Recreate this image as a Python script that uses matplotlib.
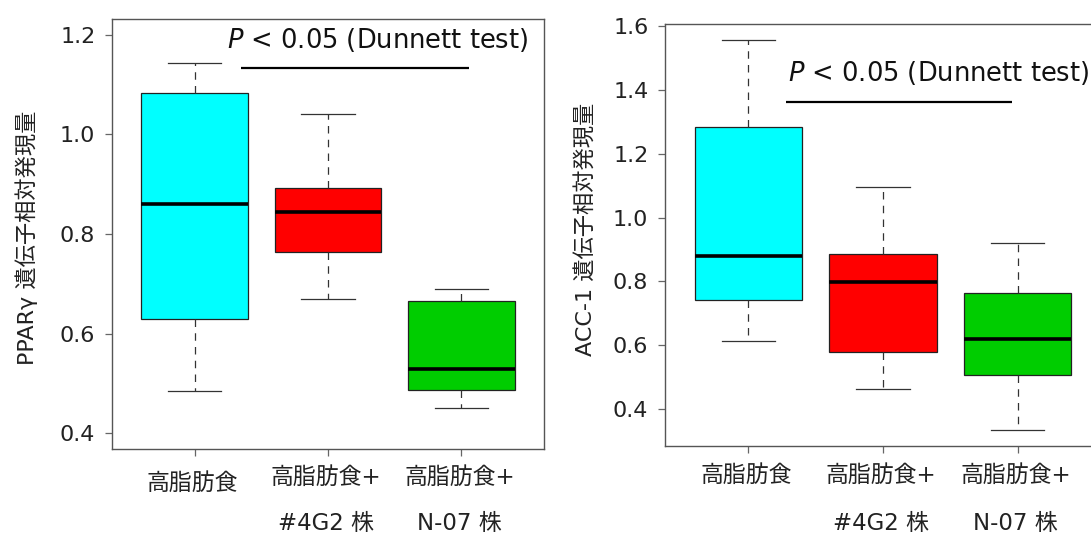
import matplotlib
matplotlib.use("Agg")
import matplotlib.pyplot as plt

plt.rcParams['font.family'] = ['DejaVu Sans', 'Noto Sans CJK JP']
plt.rcParams['mathtext.fontset'] = 'dejavusans'

# Groups and colours
groups = ["高脂肪食", "高脂肪食+", "高脂肪食+"]
group_sub = ["", "#4G2 株", "N-07 株"]
box_colors = ["#00FFFF", "#FF0000", "#00CD00"]

# PPARγ relative expression: whisker low, Q1, median, Q3, whisker high
ppar_whislo = [0.484, 0.669, 0.451]
ppar_q1 = [0.630, 0.764, 0.487]
ppar_med = [0.860, 0.845, 0.528]
ppar_q3 = [1.084, 0.892, 0.665]
ppar_whishi = [1.144, 1.042, 0.689]

# ACC-1 relative expression
acc_whislo = [0.614, 0.463, 0.333]
acc_q1 = [0.743, 0.579, 0.507]
acc_med = [0.881, 0.798, 0.621]
acc_q3 = [1.285, 0.886, 0.765]
acc_whishi = [1.558, 1.096, 0.921]

ppar_ticks = [0.4, 0.6, 0.8, 1.0, 1.2]
acc_ticks = [0.4, 0.6, 0.8, 1.0, 1.2, 1.4, 1.6]

fig = plt.figure(figsize=(10.91, 5.34), dpi=100)
W, H = 1091, 534


def add_axes_px(x0, y0, x1, y1):
    return fig.add_axes([x0 / W, 1 - y1 / H, (x1 - x0) / W, (y1 - y0) / H])


def draw_panel(ax, whislo, q1, med, q3, whishi, yticks, ylim, ylabel_xy, ylabel,
               sig_x, sig_y, txt_xy, line1_off, line2_off):
    stats = []
    for i in range(3):
        stats.append(dict(whislo=whislo[i], q1=q1[i], med=med[i], q3=q3[i],
                          whishi=whishi[i], fliers=[]))
    bp = ax.bxp(stats, positions=[1, 2, 3], widths=0.8, capwidths=0.4,
                patch_artist=True, showfliers=False,
                boxprops=dict(linewidth=0.9, edgecolor="#222222"),
                medianprops=dict(color="black", linewidth=2.6, solid_capstyle="butt"),
                whiskerprops=dict(color="#333333", linewidth=0.9,
                                  linestyle=(0, (6, 5))),
                capprops=dict(color="#333333", linewidth=0.9))
    for patch, c in zip(bp["boxes"], box_colors):
        patch.set_facecolor(c)

    ax.set_xlim(0.38, 3.62)
    ax.set_ylim(*ylim)
    ax.set_yticks(yticks)
    ax.set_yticklabels([f"{t:.1f}" for t in yticks])
    ax.set_xticks([1, 2, 3])
    ax.set_xticklabels([])
    ax.tick_params(axis="both", length=5, width=0.9, color="#666666",
                   labelsize=16, labelcolor="#222222", pad=7)
    for sp in ax.spines.values():
        sp.set_color("#555555")
        sp.set_linewidth(1.0)

    # two-line category labels
    for i, (g, s) in enumerate(zip(groups, group_sub)):
        off = line1_off[0] if s == "" else line1_off[1]
        ax.annotate(g, xy=(i + 1, 0), xycoords=("data", "axes fraction"),
                    xytext=(-2, -off), textcoords="offset pixels",
                    ha="center", va="center", fontsize=16.5, color="#222222",
                    annotation_clip=False)
        if s:
            ax.annotate(s, xy=(i + 1, 0), xycoords=("data", "axes fraction"),
                        xytext=(-2, -line2_off), textcoords="offset pixels",
                        ha="center", va="center", fontsize=16.5, color="#222222",
                        annotation_clip=False)

    fig.text(ylabel_xy[0] / W, 1 - ylabel_xy[1] / H, ylabel, rotation=90,
             ha="center", va="center", fontsize=16, color="#222222")

    ax.plot(sig_x, [sig_y, sig_y], color="black", linewidth=1.6,
            solid_capstyle="butt")
    ax.text(txt_xy[0], txt_xy[1], r"$P$ < 0.05 (Dunnett test)", ha="left",
            va="center", fontsize=18.5, color="#111111")


ax1 = add_axes_px(112, 19, 544, 449)
draw_panel(ax1, ppar_whislo, ppar_q1, ppar_med, ppar_q3, ppar_whishi,
           ppar_ticks, (0.368, 1.232), (27, 238), "PPARγ 遺伝子相対発現量",
           [1.351, 3.056], 1.134, (1.243, 1.190), (34, 28), 74)

ax2 = add_axes_px(665, 24, 1101, 446)
draw_panel(ax2, acc_whislo, acc_q1, acc_med, acc_q3, acc_whishi,
           acc_ticks, (0.284, 1.607), (585, 229), "ACC-1 遺伝子相対発現量",
           [1.281, 2.96], 1.364, (1.291, 1.452), (29, 29), 77)

fig.savefig("out.png", dpi=100)
